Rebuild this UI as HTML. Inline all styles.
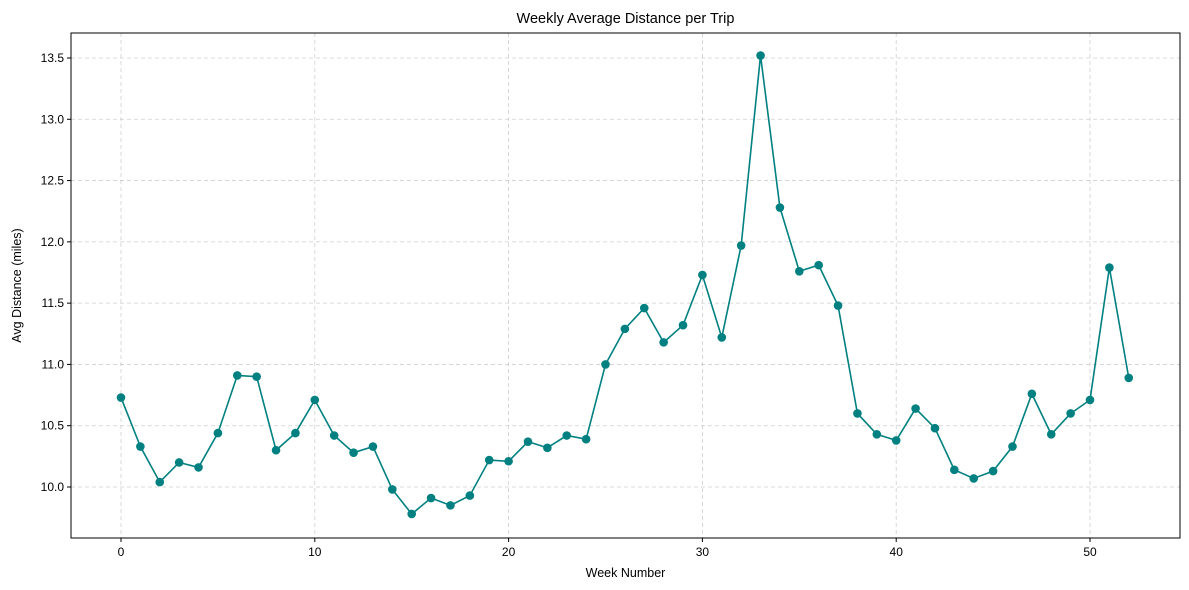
<!DOCTYPE html>
<html><head><meta charset="utf-8"><style>
html,body{margin:0;padding:0;background:#fff;}
svg{display:block;font-family:"Liberation Sans",sans-serif;}
</style></head><body>
<svg id="chart" width="1189" height="590"></svg>
<script>
const weeks = [];
for (let i = 0; i <= 52; i++) weeks.push(i);
const avgDistance = [10.73,10.33,10.04,10.20,10.16,10.44,10.91,10.90,10.30,10.44,10.71,10.42,10.28,10.33,9.98,9.78,9.91,9.85,9.93,10.22,10.21,10.37,10.32,10.42,10.39,11.00,11.29,11.46,11.18,11.32,11.73,11.22,11.97,13.52,12.28,11.76,11.81,11.48,10.60,10.43,10.38,10.64,10.48,10.14,10.07,10.13,10.33,10.76,10.43,10.60,10.71,11.79,10.89];
const xTicks = [0,10,20,30,40,50];
const yTicks = [10.0,10.5,11.0,11.5,12.0,12.5,13.0,13.5];

const NS = "http://www.w3.org/2000/svg";
const svg = document.getElementById('chart');
const L=71, R=1180, T=33, B=538;
const x = v => 121 + v*(1090-121)/50;
const y = v => 487 - (v-10)*(487-58)/3.5;
function mk(tag, attrs, parent){
  const e=document.createElementNS(NS,tag);
  for(const k in attrs) e.setAttribute(k,attrs[k]);
  (parent||svg).appendChild(e); return e;
}
// grid
xTicks.forEach(t=>{
  const g=mk('line',{x1:x(t),x2:x(t),y1:T,y2:B,stroke:'#b0b0b0','stroke-width':0.8,'stroke-dasharray':'4,3',opacity:0.6});
  
  
});
yTicks.forEach(t=>{
  const g=mk('line',{x1:L,x2:R,y1:y(t),y2:y(t),stroke:'#b0b0b0','stroke-width':0.8,'stroke-dasharray':'4,3',opacity:0.6});
  
  
});
// frame
const fr=mk('rect',{x:L,y:T,width:R-L,height:B-T,fill:'none',stroke:'#000','stroke-width':1});


// ticks
xTicks.forEach(t=>{
  mk('line',{x1:x(t),x2:x(t),y1:B,y2:B+4,stroke:'#000'});
  const tx=mk('text',{x:x(t),y:B+18,'text-anchor':'middle','font-size':12,fill:'#000'});
  tx.textContent=t;
  
  
});
yTicks.forEach(t=>{
  mk('line',{x1:L-4,x2:L,y1:y(t),y2:y(t),stroke:'#000'});
  const tx=mk('text',{x:L-7,y:y(t)+4,'text-anchor':'end','font-size':12,fill:'#000'});
  tx.textContent=t.toFixed(1);
  
  
});
// line
const pl=mk('polyline',{points:weeks.map((w,i)=>x(w)+','+y(avgDistance[i])).join(' '),fill:'none',stroke:'#008080','stroke-width':1.6});


weeks.forEach((w,i)=>{
  const c=mk('circle',{cx:x(w),cy:y(avgDistance[i]),r:4.3,fill:'#008080'});
  
  
});
// titles
const ti=mk('text',{x:(L+R)/2,y:23,'text-anchor':'middle','font-size':14.5,fill:'#000'});
ti.textContent='Weekly Average Distance per Trip';


const xl=mk('text',{x:(L+R)/2,y:577,'text-anchor':'middle','font-size':12.5,fill:'#000'});
xl.textContent='Week Number';


const yl=mk('text',{x:0,y:0,'text-anchor':'middle','font-size':12.5,fill:'#000',transform:'translate(21,'+((T+B)/2)+') rotate(-90)'});
yl.textContent='Avg Distance (miles)';


</script>
</body></html>
